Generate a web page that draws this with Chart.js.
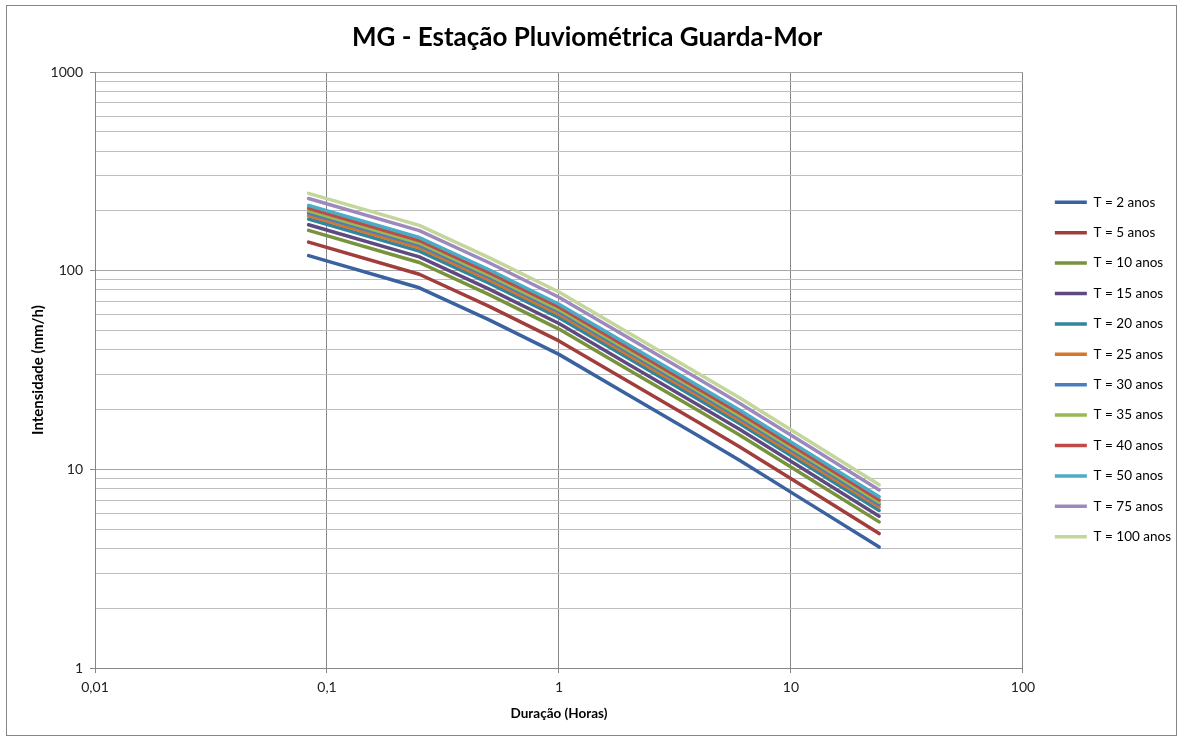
<!DOCTYPE html>
<html>
<head>
<meta charset="utf-8">
<title>MG - Estação Pluviométrica Guarda-Mor</title>
<script src="https://cdn.jsdelivr.net/npm/chart.js@4.4.0/dist/chart.umd.min.js"></script>
<style>
  html, body { margin: 0; padding: 0; background: #fff; }
  #frame { position: absolute; left: 6px; top: 5px; width: 1171px; height: 731px; border: 1px solid #868686; box-sizing: border-box; }
  #idf-chart { position: absolute; left: 0; top: 0; }
</style>
</head>
<body>
<div id="frame"></div>
<canvas id="idf-chart" width="1178" height="737"></canvas>
<script>
// Durations (hours)
const durations = [0.0833, 0.25, 0.5, 1, 2, 4, 6, 12, 24];

// Return periods
const seriesLabels = [
  'T = 2 anos', 'T = 5 anos', 'T = 10 anos', 'T = 15 anos', 'T = 20 anos', 'T = 25 anos',
  'T = 30 anos', 'T = 35 anos', 'T = 40 anos', 'T = 50 anos', 'T = 75 anos', 'T = 100 anos'
];

// Intensity (mm/h) per return period
const t2 = [119, 82, 56.5, 37.9, 23.6, 14.7, 11.1, 6.72, 4.06];
const t5 = [139.2, 95.9, 66.1, 44.3, 27.6, 17.2, 13.0, 7.86, 4.75];
const t10 = [159.5, 109.9, 75.7, 50.8, 31.6, 19.7, 14.9, 9.0, 5.44];
const t15 = [170.2, 117.3, 80.8, 54.2, 33.7, 21.0, 15.9, 9.61, 5.81];
const t20 = [182.1, 125.5, 86.4, 58.0, 36.1, 22.5, 17.0, 10.28, 6.21];
const t25 = [189.2, 130.4, 89.8, 60.3, 37.5, 23.4, 17.6, 10.68, 6.46];
const t30 = [195.2, 134.5, 92.7, 62.2, 38.7, 24.1, 18.2, 11.02, 6.66];
const t35 = [199.9, 137.8, 94.9, 63.7, 39.6, 24.7, 18.6, 11.29, 6.82];
const t40 = [205.9, 141.9, 97.7, 65.6, 40.8, 25.4, 19.2, 11.63, 7.02];
const t50 = [213.0, 146.8, 101.1, 67.8, 42.2, 26.3, 19.9, 12.03, 7.27];
const t75 = [230.9, 159.1, 109.6, 73.5, 45.8, 28.5, 21.5, 13.04, 7.88];
const t100 = [245.1, 168.9, 116.4, 78.1, 48.6, 30.3, 22.9, 13.84, 8.36];

const seriesValues = [t2, t5, t10, t15, t20, t25, t30, t35, t40, t50, t75, t100];

// Axis ticks
const xTickValues = [0.01, 0.1, 1, 10, 100];
const yMajorTicks = [1, 10, 100, 1000];

// Line colours (Excel palette)
const colors = [
  '#3A62A0', '#A13E3B', '#77933C', '#5F4A80', '#31859C', '#D3772F',
  '#4A7EBB', '#98B954', '#BE4B48', '#4BACC6', '#9D89BE', '#C3D69B'
];

const fontFamily = 'Lato, "Open Sans", sans-serif';

// Build y ticks 1..9, 10..90, 100..900, 1000
const yTickValues = [];
yMajorTicks.forEach((m, i) => {
  if (i === yMajorTicks.length - 1) { yTickValues.push(m); return; }
  for (let k = 1; k <= 9; k++) yTickValues.push(m * k);
});

const datasets = seriesValues.map((vals, i) => ({
  label: seriesLabels[i],
  data: durations.map((d, j) => ({ x: d, y: vals[j] })),
  borderColor: colors[i],
  backgroundColor: colors[i],
  borderWidth: 3.5,
  borderCapStyle: 'round',
  borderJoinStyle: 'round',
  pointRadius: 0,
  pointHoverRadius: 0,
  tension: 0,
  order: seriesValues.length - i // last series drawn on top, like Excel
}));

// Push the legend a little away from the plot area
const legendShift = {
  id: 'legendShift',
  afterLayout(chart) {
    const lg = chart.legend;
    lg.left += 15;
    lg.right += 15;
    lg.top += 5;
    lg.bottom += 5;
  }
};

const isMajorY = (v) => yMajorTicks.includes(v);

new Chart(document.getElementById('idf-chart'), {
  type: 'line',
  data: { datasets: datasets },
  options: {
    responsive: false,
    animation: false,
    layout: { padding: { left: 8, top: 0, right: 12, bottom: 8 } },
    scales: {
      x: {
        type: 'logarithmic',
        min: 0.01,
        max: 100,
        afterBuildTicks: (scale) => {
          scale.ticks = xTickValues.map(v => ({ value: v }));
        },
        afterFit: (scale) => { scale.height = 61; },
        ticks: {
          autoSkip: false,
          maxRotation: 0,
          padding: 6,
          color: '#222',
          font: { family: fontFamily, size: 14 },
          callback: (value) => String(value).replace('.', ',')
        },
        grid: { color: '#868686', tickColor: '#868686', tickLength: 5 },
        border: { color: '#868686' },
        title: {
          display: true,
          text: 'Duração (Horas)',
          color: '#000',
          font: { family: fontFamily, size: 13.5, weight: 'bold' },
          padding: { top: 0, bottom: 7 }
        }
      },
      y: {
        type: 'logarithmic',
        min: 1,
        max: 1000,
        afterBuildTicks: (scale) => {
          scale.ticks = yTickValues.map(v => ({ value: v }));
        },
        afterFit: (scale) => { scale.width = 87; },
        ticks: {
          autoSkip: false,
          padding: 7,
          color: '#222',
          font: { family: fontFamily, size: 14 },
          callback: (value) => isMajorY(value) ? String(value) : ''
        },
        grid: {
          color: (ctx) => ctx.tick && isMajorY(ctx.tick.value) ? '#A6A6A6' : '#BDBDBD',
          tickColor: (ctx) => ctx.tick && isMajorY(ctx.tick.value) ? '#868686' : 'rgba(0,0,0,0)',
          tickLength: 5
        },
        border: { color: '#868686' },
        title: {
          display: true,
          text: 'Intensidade (mm/h)',
          color: '#000',
          font: { family: fontFamily, size: 15, weight: 'bold' },
          padding: { top: 21, bottom: 0 }
        }
      }
    },
    plugins: {
      title: {
        display: true,
        text: 'MG - Estação Pluviométrica Guarda-Mor',
        color: '#000',
        font: { family: fontFamily, size: 26, weight: 'bold' },
        padding: { top: 22.4, bottom: 18.4 }
      },
      legend: {
        position: 'right',
        labels: {
          usePointStyle: true,
          pointStyle: 'line',
          pointStyleWidth: 32,
          padding: 16.9,
          color: '#000',
          font: { family: fontFamily, size: 13.5 },
          sort: (a, b) => a.datasetIndex - b.datasetIndex
        }
      },
      tooltip: { enabled: false }
    }
  },
  plugins: [legendShift]
});
</script>
</body>
</html>
